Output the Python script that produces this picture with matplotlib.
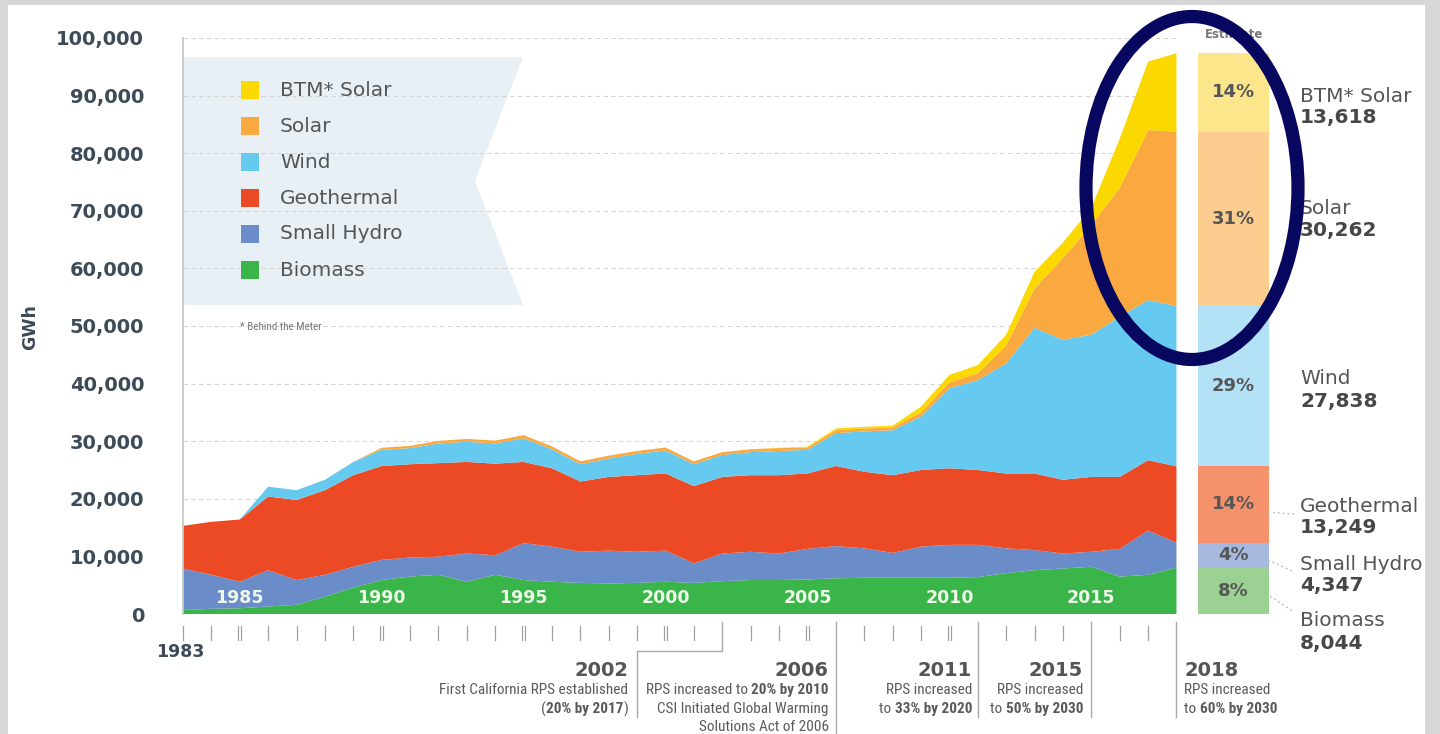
import os
import matplotlib
matplotlib.use("Agg")
import matplotlib.pyplot as plt
from matplotlib import font_manager
from matplotlib.font_manager import FontProperties
from matplotlib.patches import Polygon, Ellipse, Rectangle
from matplotlib.transforms import blended_transform_factory

W, H = 1440, 734

# Renewable generation in California by source (GWh), 1983-2018
years = list(range(1983, 2019))
biomass = [700, 900, 1000, 1300, 1600, 3000, 4600, 5900, 6500, 6800, 5600, 6800,
           5900, 5600, 5400, 5300, 5400, 5600, 5400, 5700, 5900, 5900, 6000, 6200,
           6300, 6300, 6300, 6300, 6400, 7100, 7600, 7900, 8200, 6500, 6800, 8044]
small_hydro = [7200, 5900, 4600, 6300, 4300, 3800, 3600, 3500, 3300, 3150, 4900, 3400,
               6400, 6100, 5400, 5700, 5400, 5400, 3400, 4800, 4900, 4600, 5300, 5600,
               5100, 4300, 5400, 5700, 5600, 4300, 3500, 2600, 2600, 4800, 7700, 4347]
geothermal = [7400, 9200, 10800, 12800, 13900, 14700, 15900, 16300, 16200, 16250, 15900, 15900,
              14100, 13600, 12200, 12800, 13300, 13400, 13400, 13300, 13300, 13600, 13100, 13900,
              13300, 13500, 13300, 13300, 13000, 13000, 13300, 12800, 13000, 12500, 12200, 13249]
wind = [0, 0, 0, 1700, 1700, 1800, 2300, 2800, 2800, 3400, 3500, 3500,
        4100, 3300, 3000, 3200, 3700, 4000, 3800, 3800, 4000, 4200, 4100, 5700,
        7000, 7800, 9300, 13900, 15600, 19100, 25300, 24300, 24700, 27800, 27800, 27838]
solar = [0, 0, 0, 0, 0, 0, 0, 350, 400, 450, 500, 500,
         550, 500, 500, 500, 500, 500, 500, 500, 500, 500, 400, 500,
         500, 500, 700, 1000, 1200, 3100, 6800, 14200, 19000, 22400, 29500, 30262]
btm_solar = [0, 0, 0, 0, 0, 0, 0, 0, 0, 0, 0, 0,
             0, 0, 0, 0, 0, 0, 0, 0, 0, 50, 150, 300,
             300, 300, 1000, 1300, 1400, 1900, 2900, 2700, 3000, 8500, 11900, 13618]

sources = ["Biomass", "Small Hydro", "Geothermal", "Wind", "Solar", "BTM* Solar"]
series = [biomass, small_hydro, geothermal, wind, solar, btm_solar]
area_colors = ["#3ab54a", "#6a8cc8", "#ec4a24", "#66c9f0", "#f9a93f", "#fbd800"]
bar_colors = ["#9bd192", "#a8b9e0", "#f5926b", "#b3e1f6", "#fbcd8f", "#fbe68c"]

policy_years = [2002, 2006, 2011, 2015, 2018]
policy_text = [
    [[("First California RPS established", False)],
     [("(", False), ("20% by 2017", True), (")", False)]],
    [[("RPS increased to ", False), ("20% by 2010", True)],
     [("CSI Initiated Global Warming", False)],
     [("Solutions Act of 2006", False)]],
    [[("RPS increased", False)], [("to ", False), ("33% by 2020", True)]],
    [[("RPS increased", False)], [("to ", False), ("50% by 2030", True)]],
    [[("RPS increased", False)], [("to ", False), ("60% by 2030", True)]],
]

# pick a condensed face for the small print, if one is installed
files = {os.path.basename(f.fname): f.fname for f in font_manager.fontManager.ttflist}
NARROW_REG, NARROW_BOLD, NARROW_SIZE = None, None, 9.3
for reg, bold in [("RobotoCondensed-Regular.ttf", "RobotoCondensed-Bold.ttf"),
                  ("LiberationSansNarrow-Regular.ttf", "LiberationSansNarrow-Bold.ttf"),
                  ("DejaVuSansCondensed.ttf", "DejaVuSansCondensed-Bold.ttf")]:
    if reg in files and bold in files:
        NARROW_REG = FontProperties(fname=files[reg])
        NARROW_BOLD = FontProperties(fname=files[bold])
        NARROW_SIZE = 11
        break
if NARROW_REG is None:
    NARROW_REG = FontProperties(family="Liberation Sans")
    NARROW_BOLD = FontProperties(family="Liberation Sans", weight="bold")

DARK = "#3d4b59"
GREY = "#555555"


def fx(x):
    return x / W


def fy(y):
    return 1 - y / H


fig = plt.figure(figsize=(W / 100, H / 100), dpi=100)
fig.patch.set_facecolor("#d7d7d7")
fig.add_artist(Rectangle((fx(8), 0), fx(1425 - 8), 1 - 5 / H, transform=fig.transFigure,
                         facecolor="white", edgecolor="none", zorder=-10))

ax = fig.add_axes([fx(183), fy(614), fx(1290 - 183), (614 - 38) / H])
ax.patch.set_visible(False)
ax.set_xlim(1983, 2022)
ax.set_ylim(0, 100000)
for s in ["top", "right", "bottom"]:
    ax.spines[s].set_visible(False)
ax.spines["left"].set_color("#c8c8c8")
ax.spines["left"].set_linewidth(1.3)

yt = list(range(0, 100001, 10000))
ax.set_yticks(yt)
ax.set_yticklabels([f"{v:,}" for v in yt], fontsize=14, fontweight="bold", color=DARK)
ax.tick_params(axis="y", length=0, pad=28)
ax.set_xticks([])
ax.hlines(yt[1:], 1983, 2018, colors="#d4d4d4", linestyles=(0, (4, 3)), lw=0.8, zorder=1)
fig.text(fx(30), fy(327), "GWh", rotation=90, ha="center", va="center", fontsize=12.5,
         fontweight="bold", color=DARK)

# legend panel with notched right edge
panel = [(183, 57), (523, 57), (475, 181), (523, 305), (183, 305)]
ax.add_patch(Polygon([(fx(x), fy(y)) for x, y in panel], closed=True, transform=fig.transFigure,
                     facecolor="#e8f0f5", edgecolor="none", zorder=0.5))

ax.stackplot(years, *series, colors=area_colors, linewidth=0, zorder=2)

# 2018 estimate bar built from the final year of each series
est = [s[-1] for s in series]
total = sum(est)
bottom = 0
for v, c in zip(est, bar_colors):
    ax.bar(2020, v, bottom=bottom, width=2.5, color=c, linewidth=0, zorder=2)
    ax.text(2020, bottom + v / 2, f"{round(v / total * 100)}%", ha="center", va="center",
            fontsize=13, fontweight="bold", color="#565656", zorder=3)
    bottom += v

trans = blended_transform_factory(ax.transData, fig.transFigure)

# x ticks, doubled every five years
for yr in range(1983, 2018):
    if yr in policy_years:
        continue
    offs = [-0.055, 0.055] if yr % 5 == 0 else [0]
    for o in offs:
        ax.plot([yr + o, yr + o], [fy(626), fy(640)], color="#a0a0a0", lw=0.9,
                transform=trans, clip_on=False)

for yr in range(1985, 2016, 5):
    ax.text(yr, fy(598), str(yr), transform=trans, ha="center", va="center",
            fontsize=12.5, fontweight="bold", color="#eef8e8", zorder=3)
fig.text(fx(180), fy(652), "1983", ha="center", va="center", fontsize=12.5,
         fontweight="bold", color=DARK)

# policy milestone lines
lc = "#a8a8a8"
ax.plot([2002, 2002, 1999, 1999], [fy(622), fy(651), fy(651), fy(717)], color=lc, lw=1,
        transform=trans, clip_on=False)
ax.plot([2006, 2006], [fy(622), fy(740)], color=lc, lw=1, transform=trans, clip_on=False)
for yr in [2011, 2015, 2018]:
    ax.plot([yr, yr], [fy(622), fy(717)], color=lc, lw=1, transform=trans, clip_on=False)

renderer = fig.canvas.get_renderer()


def rich(x, y, parts, align="right"):
    seq = parts[::-1] if align == "right" else parts
    cur = x
    for txt, bold in seq:
        t = fig.text(fx(cur), fy(y), txt, ha=align, va="center", size=NARROW_SIZE,
                     fontproperties=NARROW_BOLD if bold else NARROW_REG, color="#5a5a5a")
        t.set_fontsize(NARROW_SIZE)
        w = t.get_window_extent(renderer).width
        if txt.endswith(" ") or txt.startswith(" "):
            w += 0
        cur = cur - w if align == "right" else cur + w


anchors = [628, 829, 972, 1083, 1184]
rows = [690, 709, 727]
for yr, x0, block in zip(policy_years, anchors, policy_text):
    align = "left" if yr == 2018 else "right"
    fig.text(fx(x0), fy(670), str(yr), ha=align, va="center", fontsize=14,
             fontweight="bold", color=GREY)
    for yy, parts in zip(rows, block):
        rich(x0, yy, parts, align)

# legend entries
leg_y = [90, 126, 162, 198, 234, 270]
for i, yy in enumerate(leg_y):
    k = len(sources) - 1 - i
    fig.add_artist(Rectangle((fx(241), fy(yy + 9)), fx(18), 18 / H, transform=fig.transFigure,
                             facecolor=area_colors[k], edgecolor="none"))
    fig.text(fx(280), fy(yy), sources[k], ha="left", va="center", fontsize=14.5, color=GREY)
note = fig.text(fx(240), fy(327), "* Behind the Meter", ha="left", va="center",
                fontproperties=NARROW_REG, color="#777777")
note.set_fontsize(8)

# right-hand labels for the estimate bar
label_y = [621, 564, 506, 379, 209, 96]
for k, yy in enumerate(label_y):
    fig.text(fx(1300), fy(yy), sources[k], ha="left", va="center", fontsize=14.5, color=GREY)
    fig.text(fx(1300), fy(yy + 22), f"{est[k]:,}", ha="left", va="center", fontsize=14.5,
             fontweight="bold", color="#474747")
for (x0, y0), (x1, y1) in [((1268, 512), (1294, 514)), ((1268, 560), (1294, 572)),
                           ((1270, 596), (1294, 612))]:
    fig.add_artist(plt.Line2D([fx(x0), fx(x1)], [fy(y0), fy(y1)], transform=fig.transFigure,
                              color="#c0c0c0", lw=1, linestyle=(0, (1.5, 2))))

fig.text(fx(1234), fy(35), "Estimate", ha="center", va="center", fontsize=8.5,
         fontweight="bold", color="#777777")

fig.add_artist(Ellipse((fx(1192), fy(188)), fx(212), 343 / H, transform=fig.transFigure,
                       facecolor="none", edgecolor="#07075f", lw=9.5, zorder=10))

fig.savefig("out.png", dpi=100, facecolor=fig.get_facecolor())
